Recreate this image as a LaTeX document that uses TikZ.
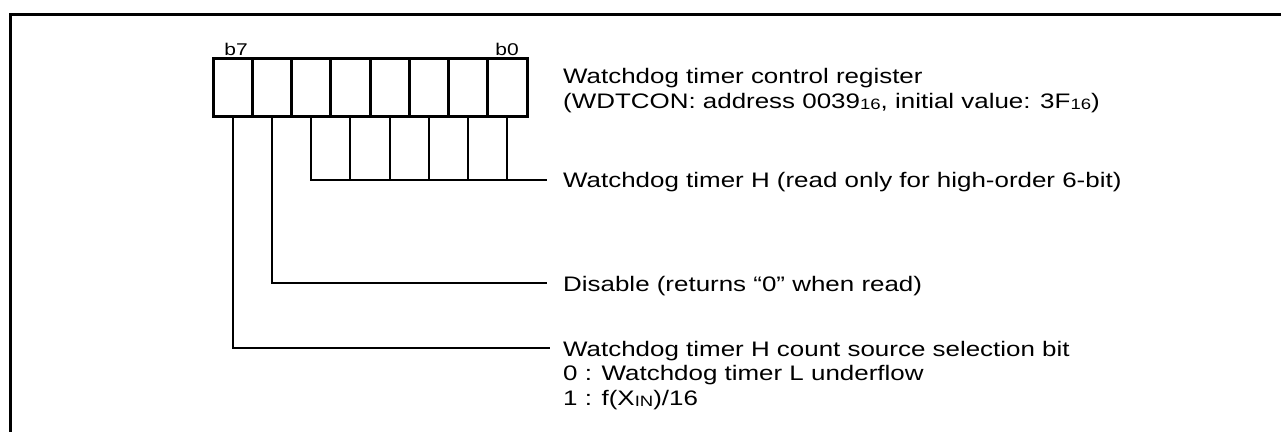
\documentclass[tikz,border=0pt]{standalone}
\usepackage{fontspec}
\setmainfont[FakeStretch=1.235]{Liberation Sans}
\newcommand\smallsub[1]{\raisebox{-1pt}{\fontsize{15}{15}\selectfont #1}}
\tikzset{
  regcell/.style={draw, line width=3pt, minimum width=39.25pt, minimum height=58pt, inner sep=0pt, outer sep=0pt},
  conn/.style={line width=2pt},
  label/.style={anchor=base west, inner sep=0pt, font=\fontsize{21}{25}\selectfont},
  bitlbl/.style={anchor=base, inner sep=0pt, font=\fontsize{17}{20}\selectfont},
  frame/.style={line width=3pt}
}
\begin{document}
\begin{tikzpicture}[x=1pt,y=-1pt]
\useasboundingbox (0,0) rectangle (1281,431);
\clip (0,0) rectangle (1281,431);
\draw[frame] (10.5,440) -- (10.5,14.5) -- (1290,14.5);
% register cells
\foreach \k [evaluate=\k as \b using {int(7-\k)}] in {0,...,7}{
  \node[regcell] (c\b) at ({213+39.25*(\k+0.5)},87) {};
}
\node[bitlbl] (lb7) at (236,55) {b7};
\node[bitlbl] (lb0) at (507,55) {b0};
% text labels
\node[label] (reg1) at (563,83) {Watchdog timer control register};
\node[label] (reg2) at (563,108) {(WDTCON: address 0039\smallsub{16}, initial value: 3F\smallsub{16})};
\node[label] (hlbl) at (563,187.5) {Watchdog timer H (read only for high-order 6-bit)};
\node[label] (dlbl) at (563,291) {Disable (returns “0” when read)};
\node[label] (s1) at (563,356) {Watchdog timer H count source selection bit};
\node[label] (s2) at (563,380.5) {0 : Watchdog timer L underflow};
\node[label] (s3) at (563,405) {1 : f(X\smallsub{IN})/16};
% connectors
\coordinate (hend) at (547,180);
\coordinate (dend) at (547,283);
\coordinate (send) at (550,348);
\draw[conn] (c5.south) |- (hend);
\foreach \b in {4,...,0}{
  \draw[conn] (c\b.south) -- (c\b.south |- hend);
}
\draw[conn] (c6.south) |- (dend);
\draw[conn] (c7.south) |- (send);
\end{tikzpicture}
\end{document}
